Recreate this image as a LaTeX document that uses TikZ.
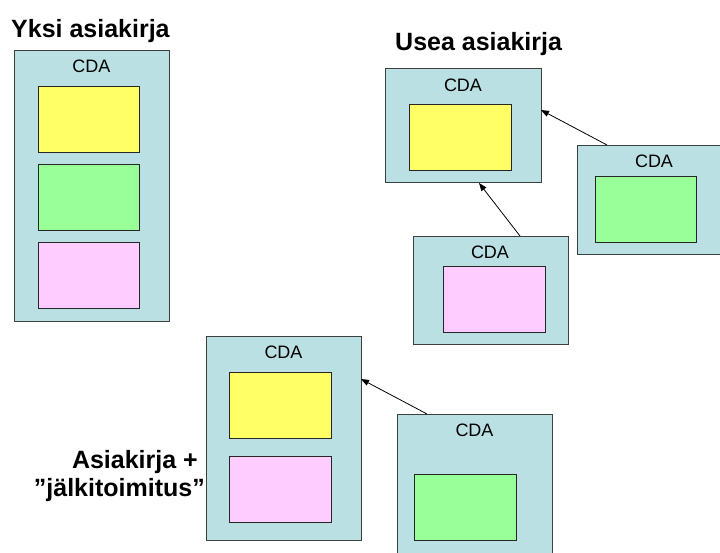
\documentclass[tikz,border=0pt]{standalone}
\usepackage{fontspec}
\setmainfont{Liberation Sans}
\usetikzlibrary{arrows.meta}

\definecolor{cdafill}{RGB}{187,224,227}
\definecolor{cdaline}{RGB}{60,64,64}
\definecolor{partyellow}{RGB}{255,255,102}
\definecolor{partgreen}{RGB}{153,255,153}
\definecolor{partpink}{RGB}{255,204,255}

\tikzset{
  cdabox/.style={draw=cdaline, fill=cdafill, line width=1pt, inner sep=0pt, outer sep=0pt},
  part/.style={draw=black!85, line width=1pt, inner sep=0pt, outer sep=0pt},
  cdalabel/.style={anchor=base, inner sep=0pt, font=\fontsize{18}{20}\selectfont},
  heading/.style={inner sep=0pt, font=\fontsize{25}{29}\selectfont\bfseries},
  link/.style={line width=0.8pt, -{Triangle[length=8pt,width=6pt]}}
}

% draw a rectangle node from its top-left corner (x1,y1) to (x2,y2)
\newcommand{\boxat}[6]{%
  \node[#1, anchor=north west, minimum width=#5-#3, minimum height=#6-#4] (#2) at (#3,#4) {};}

\begin{document}
\begin{tikzpicture}[x=1pt, y=-1pt]
\useasboundingbox (0,0) rectangle (720,552);
\clip (0,0) rectangle (720,552);

% --- single document ---
\node[heading, anchor=base west] (t1) at (11,37) {Yksi asiakirja};
\boxat{cdabox}{L}{14}{50}{169}{321}
\node[cdalabel] (Lc) at (91.5,72.5) {CDA};
\boxat{part, fill=partyellow}{L1}{38}{86}{139}{152}
\boxat{part, fill=partgreen}{L2}{38}{164}{139}{230}
\boxat{part, fill=partpink}{L3}{38}{242}{139}{308}

% --- several documents ---
\node[heading, anchor=base west] (t2) at (395,50) {Usea asiakirja};
\boxat{cdabox}{A}{385}{68}{541}{182}
\node[cdalabel] (Ac) at (463,91) {CDA};
\boxat{part, fill=partyellow}{A1}{409}{104}{511}{170}

\boxat{cdabox}{B}{577}{145}{740}{254}
\node[cdalabel] (Bc) at (654,167.5) {CDA};
\boxat{part, fill=partgreen}{B1}{595}{176}{696}{242}

\boxat{cdabox}{C}{413}{236}{568}{344}
\node[cdalabel] (Cc) at (490,258.5) {CDA};
\boxat{part, fill=partpink}{C1}{443}{266}{545}{332}

\draw[link] ([xshift=30pt]B.north west) -- ([yshift=-42pt]A.north east);
\draw[link] ([xshift=107pt]C.north west) -- ([xshift=94pt,yshift=-1pt]A.south west);

% --- document with a supplement ---
\node[heading, anchor=base east] (s1) at (205,468) {Asiakirja +\hspace*{0.28em}};
\node[heading, anchor=base east] (s2) at (205,496) {”jälkitoimitus”};

\boxat{cdabox}{D}{206}{336}{361}{540}
\node[cdalabel] (Dc) at (283.5,358.5) {CDA};
\boxat{part, fill=partyellow}{D1}{229}{372}{331}{438}
\boxat{part, fill=partpink}{D2}{229}{456}{331}{522}

\boxat{cdabox}{E}{397}{414}{552}{580}
\node[cdalabel] (Ec) at (474.5,436.5) {CDA};
\boxat{part, fill=partgreen}{E1}{414}{474}{516}{540}

\draw[link] ([xshift=30pt]E.north west) -- ([yshift=-43pt]D.north east);
\end{tikzpicture}
\end{document}
